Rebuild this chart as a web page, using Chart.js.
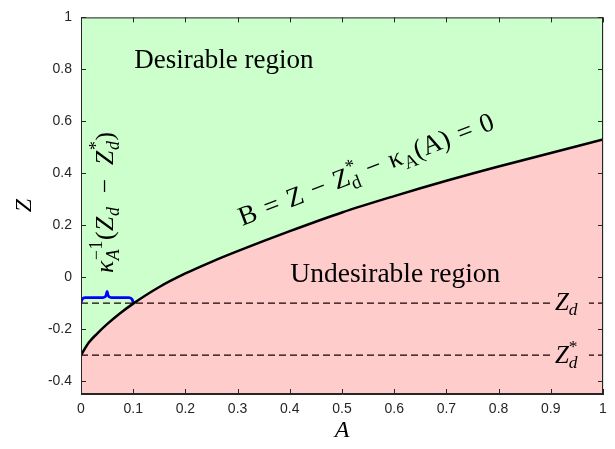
<!DOCTYPE html>
<html>
<head>
<meta charset="utf-8">
<script src="https://cdn.jsdelivr.net/npm/chart.js@4/dist/chart.umd.min.js"></script>
<style>
  html, body { margin: 0; padding: 0; background: #fff; }
  #wrap { width: 615px; height: 449px; }
</style>
</head>
<body>
<div id="wrap"><canvas id="region" width="615" height="449"></canvas></div>
<script>
// boundary B = 0
const aValues = [0, 0.015, 0.03, 0.05, 0.075, 0.1, 0.15, 0.2, 0.25, 0.3, 0.4, 0.5, 0.6, 0.7, 0.8, 0.9, 1];
const zBoundary = [-0.3, -0.252, -0.219, -0.181, -0.139, -0.102, -0.038, 0.014, 0.059, 0.1, 0.177, 0.249, 0.312, 0.371, 0.426, 0.478, 0.53];

const zD = -0.1;
const zDStar = -0.3;

// curly brace over A in [0, 0.1]
const braceA = [0, 0.002, 0.008, 0.042, 0.048, 0.05, 0.052, 0.058, 0.092, 0.098, 0.1];
const braceZ = [-0.098, -0.086, -0.079, -0.079, -0.071, -0.055, -0.071, -0.079, -0.079, -0.086, -0.098];

const xTicks = [0, 0.1, 0.2, 0.3, 0.4, 0.5, 0.6, 0.7, 0.8, 0.9, 1];
const yTicks = [-0.4, -0.2, 0, 0.2, 0.4, 0.6, 0.8, 1];

const pts = (xs, ys) => xs.map((x, i) => ({ x: x, y: ys[i] }));
const hline = (z) => [{ x: 0, y: z }, { x: 1, y: z }];

const SERIF = '"Liberation Serif", "DejaVu Serif", serif';
const SANS = '"Liberation Sans", Arial, sans-serif';
const INK = '#262626';
const PINK = '#ffcccc';
const SP = '\u2004';

// draws a run of text pieces, some italic, some raised or lowered
function drawRuns(ctx, runs, size) {
  let x = 0, kept = 0;
  runs.forEach(r => {
    const s = r.pos ? size * 0.7 : size;
    const dy = r.pos == 'sup' ? -size * 0.42 : (r.pos == 'sub' ? size * 0.22 : 0);
    ctx.font = (r.it ? 'italic ' : '') + s + 'px ' + SERIF;
    ctx.fillText(r.t, x, dy);
    const w = ctx.measureText(r.t).width;
    if (r.keep) { kept = Math.max(kept, w); }
    else { x += Math.max(w, kept); kept = 0; }
  });
  return x;
}

const boundaryRuns = [
  { t: 'B' + SP + '=' + SP + 'Z' + SP + '\u2212' + SP + 'Z' }, { t: '*', pos: 'sup', keep: true }, { t: 'd', pos: 'sub' },
  { t: SP + '\u2212' + SP }, { t: '\u03ba' }, { t: 'A', pos: 'sub' }, { t: '(A)' + SP + '=' + SP + '0' }
];
const inverseRuns = [
  { t: '\u03ba', it: true }, { t: '\u22121', pos: 'sup', keep: true }, { t: 'A', it: true, pos: 'sub' },
  { t: '(' }, { t: 'Z', it: true }, { t: 'd', it: true, pos: 'sub' }, { t: '\u2002\u2212\u2002' },
  { t: 'Z', it: true }, { t: '*', pos: 'sup', keep: true }, { t: 'd', it: true, pos: 'sub' }, { t: ')' }
];
const zdRuns = [{ t: 'Z', it: true }, { t: 'd', it: true, pos: 'sub' }];
const zdStarRuns = [{ t: 'Z', it: true }, { t: '*', pos: 'sup', keep: true }, { t: 'd', it: true, pos: 'sub' }];

const notes = {
  id: 'notes',
  afterDatasetsDraw(chart) {
    const ctx = chart.ctx, xs = chart.scales.x, ys = chart.scales.y;
    ctx.save();
    ctx.fillStyle = '#000';
    ctx.textBaseline = 'alphabetic';

    ctx.font = '27px ' + SERIF;
    ctx.fillText('Desirable region', xs.getPixelForValue(0.102), 68);
    ctx.font = '27.5px ' + SERIF;
    ctx.fillText('Undesirable region', xs.getPixelForValue(0.401), 282);

    // labels on the dashed lines
    [[zD, zdRuns, 6.5], [zDStar, zdStarRuns, 7.5]].forEach(([z, runs, dy]) => {
      const y = ys.getPixelForValue(z);
      const x0 = xs.getPixelForValue(0.906);
      ctx.fillStyle = PINK;
      ctx.fillRect(x0, y - 12, 35, 24);
      ctx.fillStyle = '#000';
      ctx.save();
      ctx.translate(x0 + 1, y + dy);
      drawRuns(ctx, runs, 25);
      ctx.restore();
    });

    ctx.save();
    ctx.translate(xs.getPixelForValue(0.309), 226);
    ctx.rotate(-21 * Math.PI / 180);
    drawRuns(ctx, boundaryRuns, 27);
    ctx.restore();

    ctx.save();
    ctx.letterSpacing = '0.6px';
    ctx.translate(113, 273);
    ctx.rotate(-Math.PI / 2);
    drawRuns(ctx, inverseRuns, 25.5);
    ctx.restore();

    ctx.restore();
  },
  afterDraw(chart) {
    const ctx = chart.ctx, a = chart.chartArea, xs = chart.scales.x, ys = chart.scales.y;
    ctx.save();
    ctx.strokeStyle = INK;
    ctx.lineWidth = 1;
    ctx.beginPath();
    xTicks.forEach(v => {
      const p = Math.round(xs.getPixelForValue(v)) + 0.5;
      ctx.moveTo(p, a.bottom); ctx.lineTo(p, a.bottom - 5);
      ctx.moveTo(p, a.top); ctx.lineTo(p, a.top + 5);
    });
    yTicks.forEach(v => {
      const p = Math.round(ys.getPixelForValue(v)) + 0.5;
      ctx.moveTo(a.left, p); ctx.lineTo(a.left + 5, p);
      ctx.moveTo(a.right, p); ctx.lineTo(a.right - 5, p);
    });
    ctx.stroke();
    ctx.strokeRect(a.left + 0.5, a.top + 0.5, a.right - a.left - 1, a.bottom - a.top - 1);
    ctx.restore();
  }
};

window.addEventListener('DOMContentLoaded', () => {
  const ctx = document.getElementById('region').getContext('2d');
  new Chart(ctx, {
    type: 'scatter',
    data: {
      datasets: [
        { data: pts(aValues, zBoundary), showLine: true, borderColor: '#000', borderWidth: 2.5,
          pointRadius: 0, fill: false, cubicInterpolationMode: 'monotone' },
        { data: pts(braceA, braceZ), showLine: true, borderColor: '#0000ff', borderWidth: 2.8,
          pointRadius: 0, fill: false, cubicInterpolationMode: 'monotone' },
        { data: hline(zD), showLine: true, borderColor: '#1a0000', borderWidth: 1.2,
          borderDash: [7, 4], pointRadius: 0, fill: false },
        { data: hline(zDStar), showLine: true, borderColor: '#1a0000', borderWidth: 1.2,
          borderDash: [7, 4], pointRadius: 0, fill: false },
        { data: pts(aValues, zBoundary), showLine: true, borderWidth: 0, pointRadius: 0,
          backgroundColor: PINK, fill: 'start', cubicInterpolationMode: 'monotone' },
        { data: pts(aValues, zBoundary), showLine: true, borderWidth: 0, pointRadius: 0,
          backgroundColor: '#ccffcc', fill: 'end', cubicInterpolationMode: 'monotone' }
      ]
    },
    options: {
      responsive: false,
      animation: false,
      events: [],
      layout: { padding: { top: 6, right: 12, left: 0, bottom: 0 } },
      plugins: { legend: { display: false }, tooltip: { enabled: false } },
      scales: {
        x: {
          type: 'linear', min: 0, max: 1, z: 1,
          afterFit: s => { s.height = 55; },
          afterBuildTicks: s => { s.ticks = xTicks.map(v => ({ value: v })); },
          grid: { color: 'rgba(38,38,38,0.15)', drawTicks: false },
          border: { color: INK, width: 1 },
          ticks: { color: INK, padding: 7, maxRotation: 0, font: { family: SANS, size: 14 },
                   callback: v => String(v) },
          title: { display: true, text: 'A', color: '#000', padding: { top: 0, bottom: 4 },
                   font: { family: SERIF, size: 24, style: 'italic' } }
        },
        y: {
          type: 'linear', min: -0.45, max: 1, z: 1,
          afterFit: s => { s.width = 81; },
          afterBuildTicks: s => { s.ticks = yTicks.map(v => ({ value: v })); },
          grid: { color: 'rgba(38,38,38,0.15)', drawTicks: false },
          border: { color: INK, width: 1 },
          ticks: { color: INK, padding: 9, font: { family: SANS, size: 14 },
                   callback: v => String(v) },
          title: { display: true, text: 'Z', color: '#000', padding: { top: 10, bottom: 0 },
                   font: { family: SERIF, size: 24, style: 'italic' } }
        }
      }
    },
    plugins: [notes]
  });
});
</script>
</body>
</html>
